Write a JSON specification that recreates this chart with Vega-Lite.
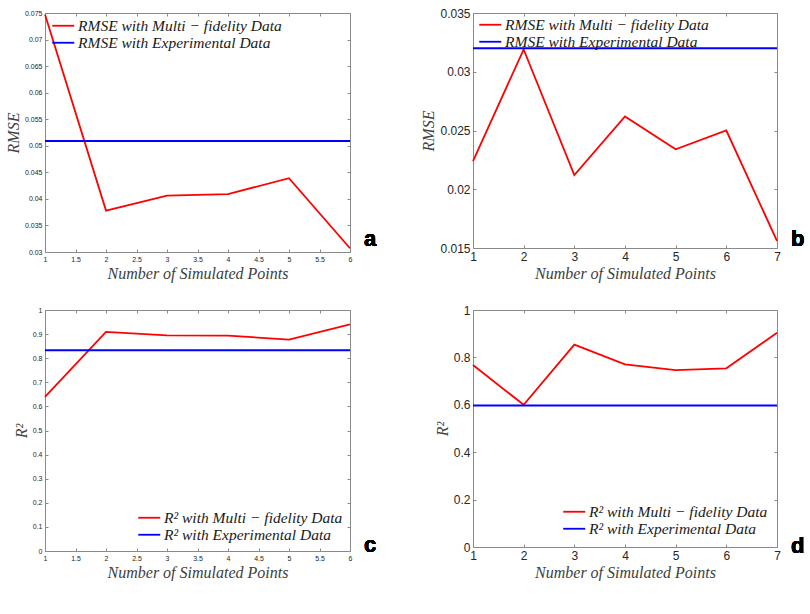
{
  "$schema": "https://vega.github.io/schema/vega-lite/v6.json",
  "background": "white",
  "padding": {"left": 4, "top": 6, "right": 0, "bottom": 0},
  "datasets": {
    "a": [
      {"points": 1, "value": 0.0747, "series": "RMSE with Multi − fidelity Data"},
      {"points": 2, "value": 0.0378, "series": "RMSE with Multi − fidelity Data"},
      {"points": 3, "value": 0.0406, "series": "RMSE with Multi − fidelity Data"},
      {"points": 4, "value": 0.0409, "series": "RMSE with Multi − fidelity Data"},
      {"points": 5, "value": 0.0439, "series": "RMSE with Multi − fidelity Data"},
      {"points": 6, "value": 0.0307, "series": "RMSE with Multi − fidelity Data"},
      {"points": 1, "value": 0.0509, "series": "RMSE with Experimental Data"},
      {"points": 6, "value": 0.0509, "series": "RMSE with Experimental Data"}
    ],
    "b": [
      {"points": 1, "value": 0.0224, "series": "RMSE with Multi − fidelity Data"},
      {"points": 2, "value": 0.0319, "series": "RMSE with Multi − fidelity Data"},
      {"points": 3, "value": 0.0212, "series": "RMSE with Multi − fidelity Data"},
      {"points": 4, "value": 0.0262, "series": "RMSE with Multi − fidelity Data"},
      {"points": 5, "value": 0.0234, "series": "RMSE with Multi − fidelity Data"},
      {"points": 6, "value": 0.0250, "series": "RMSE with Multi − fidelity Data"},
      {"points": 7, "value": 0.0156, "series": "RMSE with Multi − fidelity Data"},
      {"points": 1, "value": 0.0320, "series": "RMSE with Experimental Data"},
      {"points": 7, "value": 0.0320, "series": "RMSE with Experimental Data"}
    ],
    "c": [
      {"points": 1, "value": 0.640, "series": "R² with Multi − fidelity Data"},
      {"points": 2, "value": 0.909, "series": "R² with Multi − fidelity Data"},
      {"points": 3, "value": 0.895, "series": "R² with Multi − fidelity Data"},
      {"points": 4, "value": 0.894, "series": "R² with Multi − fidelity Data"},
      {"points": 5, "value": 0.877, "series": "R² with Multi − fidelity Data"},
      {"points": 6, "value": 0.940, "series": "R² with Multi − fidelity Data"},
      {"points": 1, "value": 0.833, "series": "R² with Experimental Data"},
      {"points": 6, "value": 0.833, "series": "R² with Experimental Data"}
    ],
    "d": [
      {"points": 1, "value": 0.768, "series": "R² with Multi − fidelity Data"},
      {"points": 2, "value": 0.600, "series": "R² with Multi − fidelity Data"},
      {"points": 3, "value": 0.854, "series": "R² with Multi − fidelity Data"},
      {"points": 4, "value": 0.771, "series": "R² with Multi − fidelity Data"},
      {"points": 5, "value": 0.746, "series": "R² with Multi − fidelity Data"},
      {"points": 6, "value": 0.754, "series": "R² with Multi − fidelity Data"},
      {"points": 7, "value": 0.904, "series": "R² with Multi − fidelity Data"},
      {"points": 1, "value": 0.597, "series": "R² with Experimental Data"},
      {"points": 7, "value": 0.597, "series": "R² with Experimental Data"}
    ]
  },
  "columns": 2,
  "bounds": "flush",
  "spacing": {"row": 58, "column": 123},
  "concat": [
    {
      "width": 305,
      "height": 239,
      "data": {"name": "a"},
      "layer": [
        {
          "mark": {"type": "line", "strokeWidth": 1.8},
          "encoding": {
            "x": {"field": "points", "type": "quantitative", "scale": {"domain": [1, 6], "nice": false, "zero": false},
              "axis": {"values": [1, 1.5, 2, 2.5, 3, 3.5, 4, 4.5, 5, 5.5, 6], "title": "Number of Simulated Points", "labelFontSize": 7}},
            "y": {"field": "value", "type": "quantitative", "scale": {"domain": [0.03, 0.075], "nice": false, "zero": false},
              "axis": {"values": [0.03, 0.035, 0.04, 0.045, 0.05, 0.055, 0.06, 0.065, 0.07, 0.075], "title": "RMSE", "labelFontSize": 7}},
            "color": {"field": "series", "type": "nominal",
              "scale": {"domain": ["RMSE with Multi − fidelity Data", "RMSE with Experimental Data"], "range": ["#ff0000", "#0000ff"]},
              "legend": {"orient": "top-left", "offset": 5, "rowPadding": -3}}
          }
        },
        {
          "mark": {"type": "line", "opacity": 0},
          "encoding": {
            "x": {"field": "points", "type": "quantitative", "scale": {"domain": [1, 6], "nice": false, "zero": false},
              "axis": {"orient": "top", "labels": false, "title": null, "values": [1, 1.5, 2, 2.5, 3, 3.5, 4, 4.5, 5, 5.5, 6]}},
            "y": {"field": "value", "type": "quantitative", "scale": {"domain": [0.03, 0.075], "nice": false, "zero": false},
              "axis": {"orient": "right", "labels": false, "title": null, "values": [0.03, 0.035, 0.04, 0.045, 0.05, 0.055, 0.06, 0.065, 0.07, 0.075]}}
          }
        },
        {
          "mark": {"type": "text", "font": "Liberation Sans", "fontWeight": "bold", "fontSize": 22, "align": "left", "baseline": "alphabetic", "color": "black"},
          "encoding": {
            "x": {"datum": 6.23, "type": "quantitative", "scale": {"domain": [1, 6], "nice": false, "zero": false}, "axis": null},
            "y": {"datum": 0.0311, "type": "quantitative", "scale": {"domain": [0.03, 0.075], "nice": false, "zero": false}, "axis": null},
            "text": {"value": "a"}
          }
        }
      ],
      "resolve": {"axis": {"x": "independent", "y": "independent"}}
    },
    {
      "width": 304,
      "height": 235,
      "data": {"name": "b"},
      "layer": [
        {
          "mark": {"type": "line", "strokeWidth": 1.8},
          "encoding": {
            "x": {"field": "points", "type": "quantitative", "scale": {"domain": [1, 7], "nice": false, "zero": false},
              "axis": {"values": [1, 2, 3, 4, 5, 6, 7], "title": "Number of Simulated Points", "labelFontSize": 12}},
            "y": {"field": "value", "type": "quantitative", "scale": {"domain": [0.015, 0.035], "nice": false, "zero": false},
              "axis": {"values": [0.015, 0.02, 0.025, 0.03, 0.035], "title": "RMSE", "labelFontSize": 12}},
            "color": {"field": "series", "type": "nominal",
              "scale": {"domain": ["RMSE with Multi − fidelity Data", "RMSE with Experimental Data"], "range": ["#ff0000", "#0000ff"]},
              "legend": {"orient": "top-left", "offset": 4, "rowPadding": 0}}
          }
        },
        {
          "mark": {"type": "line", "opacity": 0},
          "encoding": {
            "x": {"field": "points", "type": "quantitative", "scale": {"domain": [1, 7], "nice": false, "zero": false},
              "axis": {"orient": "top", "labels": false, "title": null, "values": [1, 2, 3, 4, 5, 6, 7]}},
            "y": {"field": "value", "type": "quantitative", "scale": {"domain": [0.015, 0.035], "nice": false, "zero": false},
              "axis": {"orient": "right", "labels": false, "title": null, "values": [0.015, 0.02, 0.025, 0.03, 0.035]}}
          }
        },
        {
          "mark": {"type": "text", "font": "Liberation Sans", "fontWeight": "bold", "fontSize": 22, "align": "left", "baseline": "alphabetic", "color": "black"},
          "encoding": {
            "x": {"datum": 7.276, "type": "quantitative", "scale": {"domain": [1, 7], "nice": false, "zero": false}, "axis": null},
            "y": {"datum": 0.01515, "type": "quantitative", "scale": {"domain": [0.015, 0.035], "nice": false, "zero": false}, "axis": null},
            "text": {"value": "b"}
          }
        }
      ],
      "resolve": {"axis": {"x": "independent", "y": "independent"}}
    },
    {
      "width": 305,
      "height": 241,
      "data": {"name": "c"},
      "layer": [
        {
          "mark": {"type": "line", "strokeWidth": 1.8},
          "encoding": {
            "x": {"field": "points", "type": "quantitative", "scale": {"domain": [1, 6], "nice": false, "zero": false},
              "axis": {"values": [1, 1.5, 2, 2.5, 3, 3.5, 4, 4.5, 5, 5.5, 6], "title": "Number of Simulated Points", "labelFontSize": 7}},
            "y": {"field": "value", "type": "quantitative", "scale": {"domain": [0, 1], "nice": false, "zero": false},
              "axis": {"values": [0, 0.1, 0.2, 0.3, 0.4, 0.5, 0.6, 0.7, 0.8, 0.9, 1], "title": "R²", "labelFontSize": 7}},
            "color": {"field": "series", "type": "nominal",
              "scale": {"domain": ["R² with Multi − fidelity Data", "R² with Experimental Data"], "range": ["#ff0000", "#0000ff"]},
              "legend": {"orient": "bottom-right", "offset": 7, "rowPadding": 0}}
          }
        },
        {
          "mark": {"type": "line", "opacity": 0},
          "encoding": {
            "x": {"field": "points", "type": "quantitative", "scale": {"domain": [1, 6], "nice": false, "zero": false},
              "axis": {"orient": "top", "labels": false, "title": null, "values": [1, 1.5, 2, 2.5, 3, 3.5, 4, 4.5, 5, 5.5, 6]}},
            "y": {"field": "value", "type": "quantitative", "scale": {"domain": [0, 1], "nice": false, "zero": false},
              "axis": {"orient": "right", "labels": false, "title": null, "values": [0, 0.1, 0.2, 0.3, 0.4, 0.5, 0.6, 0.7, 0.8, 0.9, 1]}}
          }
        },
        {
          "mark": {"type": "text", "font": "Liberation Sans", "fontWeight": "bold", "fontSize": 22, "align": "left", "baseline": "alphabetic", "color": "black"},
          "encoding": {
            "x": {"datum": 6.23, "type": "quantitative", "scale": {"domain": [1, 6], "nice": false, "zero": false}, "axis": null},
            "y": {"datum": -0.005, "type": "quantitative", "scale": {"domain": [0, 1], "nice": false, "zero": false}, "axis": null},
            "text": {"value": "c"}
          }
        }
      ],
      "resolve": {"axis": {"x": "independent", "y": "independent"}}
    },
    {
      "width": 304,
      "height": 237,
      "data": {"name": "d"},
      "layer": [
        {
          "mark": {"type": "line", "strokeWidth": 1.8},
          "encoding": {
            "x": {"field": "points", "type": "quantitative", "scale": {"domain": [1, 7], "nice": false, "zero": false},
              "axis": {"values": [1, 2, 3, 4, 5, 6, 7], "title": "Number of Simulated Points", "labelFontSize": 12}},
            "y": {"field": "value", "type": "quantitative", "scale": {"domain": [0, 1], "nice": false, "zero": false},
              "axis": {"values": [0, 0.2, 0.4, 0.6, 0.8, 1], "title": "R²", "labelFontSize": 12}},
            "color": {"field": "series", "type": "nominal",
              "scale": {"domain": ["R² with Multi − fidelity Data", "R² with Experimental Data"], "range": ["#ff0000", "#0000ff"]},
              "legend": {"orient": "bottom-right", "offset": 9, "rowPadding": -1}}
          }
        },
        {
          "mark": {"type": "line", "opacity": 0},
          "encoding": {
            "x": {"field": "points", "type": "quantitative", "scale": {"domain": [1, 7], "nice": false, "zero": false},
              "axis": {"orient": "top", "labels": false, "title": null, "values": [1, 2, 3, 4, 5, 6, 7]}},
            "y": {"field": "value", "type": "quantitative", "scale": {"domain": [0, 1], "nice": false, "zero": false},
              "axis": {"orient": "right", "labels": false, "title": null, "values": [0, 0.2, 0.4, 0.6, 0.8, 1]}}
          }
        },
        {
          "mark": {"type": "text", "font": "Liberation Sans", "fontWeight": "bold", "fontSize": 22, "align": "left", "baseline": "alphabetic", "color": "black"},
          "encoding": {
            "x": {"datum": 7.276, "type": "quantitative", "scale": {"domain": [1, 7], "nice": false, "zero": false}, "axis": null},
            "y": {"datum": -0.024, "type": "quantitative", "scale": {"domain": [0, 1], "nice": false, "zero": false}, "axis": null},
            "text": {"value": "d"}
          }
        }
      ],
      "resolve": {"axis": {"x": "independent", "y": "independent"}}
    }
  ],
  "resolve": {"scale": {"color": "independent"}, "legend": {"color": "independent"}},
  "config": {
    "view": {"stroke": "#8a8a8a", "strokeWidth": 1},
    "axis": {
      "domain": false,
      "grid": false,
      "tickSize": -3,
      "tickColor": "#8a8a8a",
      "labelFont": "Liberation Sans",
      "labelColor": "#262626",
      "labelPadding": 6,
      "labelFlush": false,
      "labelOverlap": false,
      "format": "~g",
      "titleFont": "Liberation Serif",
      "titleFontStyle": "italic",
      "titleFontWeight": "normal",
      "titleFontSize": 16,
      "titleColor": "#404040",
      "titlePadding": 3
    },
    "legend": {
      "title": null,
      "padding": 0,
      "symbolType": "M-1,0H3",
      "symbolSize": 121,
      "symbolStrokeWidth": 1.8,
      "labelFont": "Liberation Serif",
      "labelFontStyle": "italic",
      "labelFontSize": 15.5,
      "labelColor": "#1a1a1a",
      "labelOffset": 12.5,
      "labelLimit": 400
    }
  }
}
